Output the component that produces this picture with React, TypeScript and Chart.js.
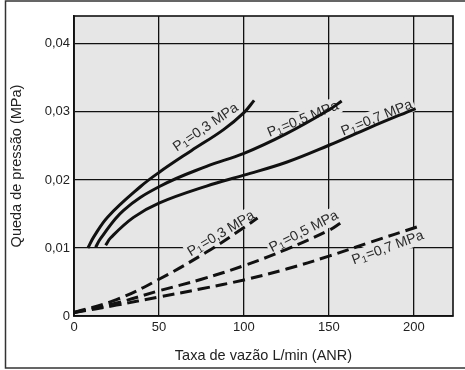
import React, { useEffect, useRef } from "react";
import { Chart, registerables } from "chart.js";
Chart.register(...registerables);

// Axis ticks
const xTickValues = [0, 50, 100, 150, 200];
const xTickLabels = ["0", "50", "100", "150", "200"];
const yTickValues = [0, 0.01, 0.02, 0.03, 0.04];
const yTickLabels = ["0", "0,01", "0,02", "0,03", "0,04"];
const xMax = 223;
const yMax = 0.0441;

// Solid curves (P1 at inlet)
const solid03Flow = [8.2, 11.8, 20, 39, 50, 69, 88, 100, 106];
const solid03Drop = [0.01, 0.0117, 0.0146, 0.019, 0.0211, 0.0243, 0.0274, 0.0299, 0.0317];
const solid05Flow = [12.7, 15.7, 29, 50, 78, 100, 125, 150, 157.5];
const solid05Drop = [0.0101, 0.0114, 0.0155, 0.019, 0.022, 0.0239, 0.0268, 0.0303, 0.0316];
const solid07Flow = [18.6, 21.6, 35, 50, 78, 100, 125, 150, 174, 201];
const solid07Drop = [0.0104, 0.0115, 0.0145, 0.0166, 0.0191, 0.0207, 0.0226, 0.0251, 0.0277, 0.0305];

// Dashed curves
const dashed03Flow = [0, 25, 50, 78, 100, 108];
const dashed03Drop = [0.0005, 0.0024, 0.0054, 0.0094, 0.013, 0.0144];
const dashed05Flow = [0, 25, 50, 75, 100, 125, 150, 157];
const dashed05Drop = [0.0005, 0.0019, 0.0037, 0.0054, 0.0074, 0.0098, 0.0126, 0.0137];
const dashed07Flow = [0, 25, 50, 75, 100, 125, 150, 175, 202];
const dashed07Drop = [0.0005, 0.0016, 0.0028, 0.004, 0.0053, 0.0069, 0.0088, 0.0109, 0.0131];

// Curve labels: pressure value, anchor (data coords), angle (deg)
const labelValues = ["0,3", "0,5", "0,7", "0,3", "0,5", "0,7"];
const labelFlow = [77.6, 134.7, 178.2, 86.5, 135.3, 184.7];
const labelDrop = [0.0277, 0.0289, 0.0291, 0.0121, 0.0124, 0.01];
const labelAngle = [-34, -22, -22, -31, -27, -20];

const FONT = "'Liberation Sans', Arial, Helvetica, sans-serif";
const PLOT_BG = "#e6e6e6";
const INK = "#111";

const toPts = (xs: number[], ys: number[]) => xs.map((x, i) => ({ x, y: ys[i] }));

const decorPlugin = {
  id: "decor",
  beforeDraw(chart: any) {
    const { ctx, chartArea: a } = chart;
    ctx.save();
    ctx.fillStyle = "#fff";
    ctx.fillRect(0, 0, chart.width, chart.height);
    ctx.fillStyle = PLOT_BG;
    ctx.fillRect(a.left, a.top, a.right - a.left, a.bottom - a.top);
    ctx.restore();
  },
  beforeDatasetsDraw(chart: any) {
    const { ctx, chartArea: a, scales } = chart;
    ctx.save();
    ctx.strokeStyle = INK;
    ctx.lineWidth = 1.6;
    ctx.strokeRect(a.left, a.top, a.right - a.left, a.bottom - a.top);
    const big = `14px ${FONT}`;
    const small = `9.5px ${FONT}`;
    for (let i = 0; i < labelValues.length; i++) {
      const px = scales.x.getPixelForValue(labelFlow[i]);
      const py = scales.y.getPixelForValue(labelDrop[i]);
      const rest = "=" + labelValues[i] + " MPa";
      ctx.font = big;
      const wP = ctx.measureText("P").width;
      const wR = ctx.measureText(rest).width;
      ctx.font = small;
      const w1 = ctx.measureText("1").width + 0.5;
      const total = wP + w1 + wR;
      ctx.save();
      ctx.translate(px, py);
      ctx.rotate((labelAngle[i] * Math.PI) / 180);
      ctx.fillStyle = PLOT_BG;
      ctx.fillRect(-total / 2 - 2, -9, total + 4, 17);
      ctx.fillStyle = "#2a2a2a";
      ctx.textBaseline = "middle";
      ctx.textAlign = "left";
      let x = -total / 2;
      ctx.font = big;
      ctx.fillText("P", x, 0);
      x += wP;
      ctx.font = small;
      ctx.fillText("1", x, 3);
      x += w1;
      ctx.font = big;
      ctx.fillText(rest, x, 0);
      ctx.restore();
    }
    ctx.restore();
  },
  afterDraw(chart: any) {
    const { ctx } = chart;
    ctx.save();
    ctx.strokeStyle = "#333";
    ctx.lineWidth = 1.5;
    ctx.strokeRect(5.5, 1, 470, 367);
    ctx.restore();
  },
};

export default function App() {
  const ref = useRef<HTMLCanvasElement>(null);
  useEffect(() => {
    if (!ref.current) return;
    const common = {
      borderColor: INK,
      borderWidth: 3,
      pointRadius: 0,
      fill: false,
      tension: 0.4,
      borderCapStyle: "butt" as const,
    };
    const chart = new Chart(ref.current, {
      type: "line",
      data: {
        datasets: [
          { ...common, label: "s03", data: toPts(solid03Flow, solid03Drop) },
          { ...common, label: "s05", data: toPts(solid05Flow, solid05Drop) },
          { ...common, label: "s07", data: toPts(solid07Flow, solid07Drop) },
          { ...common, label: "d03", data: toPts(dashed03Flow, dashed03Drop), borderDash: [12, 6] },
          { ...common, label: "d05", data: toPts(dashed05Flow, dashed05Drop), borderDash: [12, 6] },
          { ...common, label: "d07", data: toPts(dashed07Flow, dashed07Drop), borderDash: [12, 6] },
        ],
      },
      options: {
        responsive: false,
        animation: false,
        devicePixelRatio: 1,
        layout: { padding: { left: 8, top: 16, right: 12, bottom: 4 } },
        plugins: { legend: { display: false }, tooltip: { enabled: false } },
        scales: {
          x: {
            type: "linear",
            min: 0,
            max: xMax,
            afterBuildTicks: (s: any) => {
              s.ticks = xTickValues.map((v) => ({ value: v }));
            },
            afterFit: (s: any) => {
              s.height = 50;
            },
            ticks: {
              padding: 4,
              color: "#222",
              font: { family: FONT, size: 13 },
              callback: (v: any) => xTickLabels[xTickValues.indexOf(Number(v))] ?? "",
              maxRotation: 0,
            },
            grid: { color: INK, lineWidth: 1.3, drawTicks: false },
            border: { display: true, color: INK, width: 1.6 },
            title: {
              display: true,
              text: "Taxa de vazão L/min (ANR)",
              color: "#222",
              font: { family: FONT, size: 14.5 },
              padding: { top: 0, bottom: 1 },
            },
          },
          y: {
            type: "linear",
            min: 0,
            max: yMax,
            afterBuildTicks: (s: any) => {
              s.ticks = yTickValues.map((v) => ({ value: v }));
            },
            afterFit: (s: any) => {
              s.width = 66;
            },
            ticks: {
              padding: 4,
              color: "#222",
              font: { family: FONT, size: 13 },
              callback: (v: any) => {
                const i = yTickValues.findIndex((t) => Math.abs(t - Number(v)) < 1e-9);
                return i >= 0 ? yTickLabels[i] : "";
              },
            },
            grid: { color: INK, lineWidth: 1.3, drawTicks: false },
            border: { display: true, color: INK, width: 1.6 },
            title: {
              display: true,
              text: "Queda de pressão (MPa)",
              color: "#222",
              font: { family: FONT, size: 14.5 },
              padding: { top: 0, bottom: 0 },
            },
          },
        },
      },
      plugins: [decorPlugin],
    });
    return () => chart.destroy();
  }, []);
  return (
    <div style={{ position: "absolute", left: 0, top: 0, width: 465, height: 370 }}>
      <canvas ref={ref} width={465} height={370} style={{ display: "block" }} />
    </div>
  );
}
